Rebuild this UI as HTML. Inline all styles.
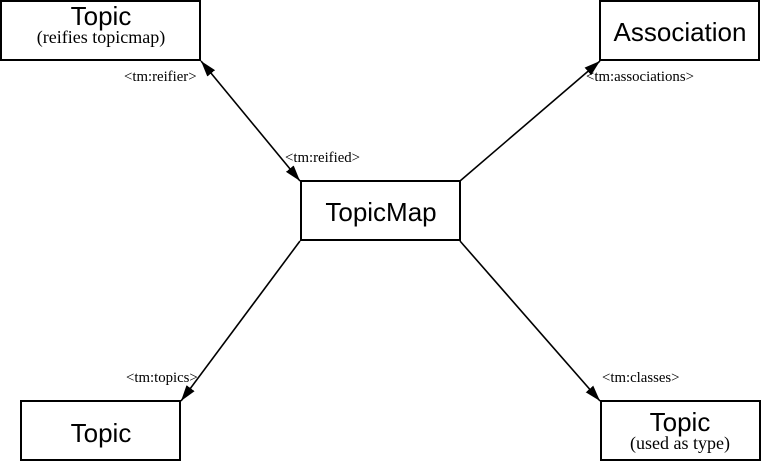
<!DOCTYPE html>
<html><head><meta charset="utf-8"><style>
html,body{margin:0;padding:0;background:#fff;}
svg{display:block;}
.s{font-family:"Liberation Sans",sans-serif;font-size:26px;}
.r{font-family:"Liberation Serif",serif;font-size:18px;}
.l{font-family:"Liberation Serif",serif;font-size:14.8px;}
</style></head><body>
<svg width="761" height="462" viewBox="0 0 761 462" xmlns="http://www.w3.org/2000/svg">
<defs>
<marker id="b" markerWidth="16" markerHeight="10" refX="16" refY="5" orient="auto-start-reverse" markerUnits="userSpaceOnUse">
<path d="M0,0 L16,5 L0,10 z" fill="#000"/></marker>
</defs>
<g fill="none" stroke="#000" stroke-width="2">
<rect x="1" y="1" width="199" height="59"/>
<rect x="600" y="1" width="159" height="59"/>
<rect x="301" y="181" width="159" height="59"/>
<rect x="21" y="401" width="159" height="59"/>
<rect x="601" y="401" width="159" height="59"/>
</g>
<g stroke="#000" stroke-width="1.6" fill="none">
<line x1="201" y1="61" x2="300" y2="181" marker-start="url(#b)" marker-end="url(#b)"/>
<line x1="460" y1="181" x2="600" y2="61" marker-end="url(#b)"/>
<line x1="300" y1="241" x2="181" y2="401" marker-end="url(#b)"/>
<line x1="460" y1="241" x2="600" y2="401" marker-end="url(#b)"/>
</g>
<g text-anchor="middle">
<text class="s" x="101" y="25">Topic</text>
<text class="r" x="101" y="43">(reifies topicmap)</text>
<text class="s" x="680" y="41">Association</text>
<text class="s" x="381" y="221">TopicMap</text>
<text class="s" x="101" y="442">Topic</text>
<text class="s" x="680" y="431">Topic</text>
<text class="r" x="680" y="449">(used as type)</text>
</g>
<g class="l">
<text x="124" y="81">&lt;tm:reifier&gt;</text>
<text x="285" y="162">&lt;tm:reified&gt;</text>
<text x="586" y="81">&lt;tm:associations&gt;</text>
<text x="126" y="382">&lt;tm:topics&gt;</text>
<text x="602" y="382">&lt;tm:classes&gt;</text>
</g>
</svg>
</body></html>
